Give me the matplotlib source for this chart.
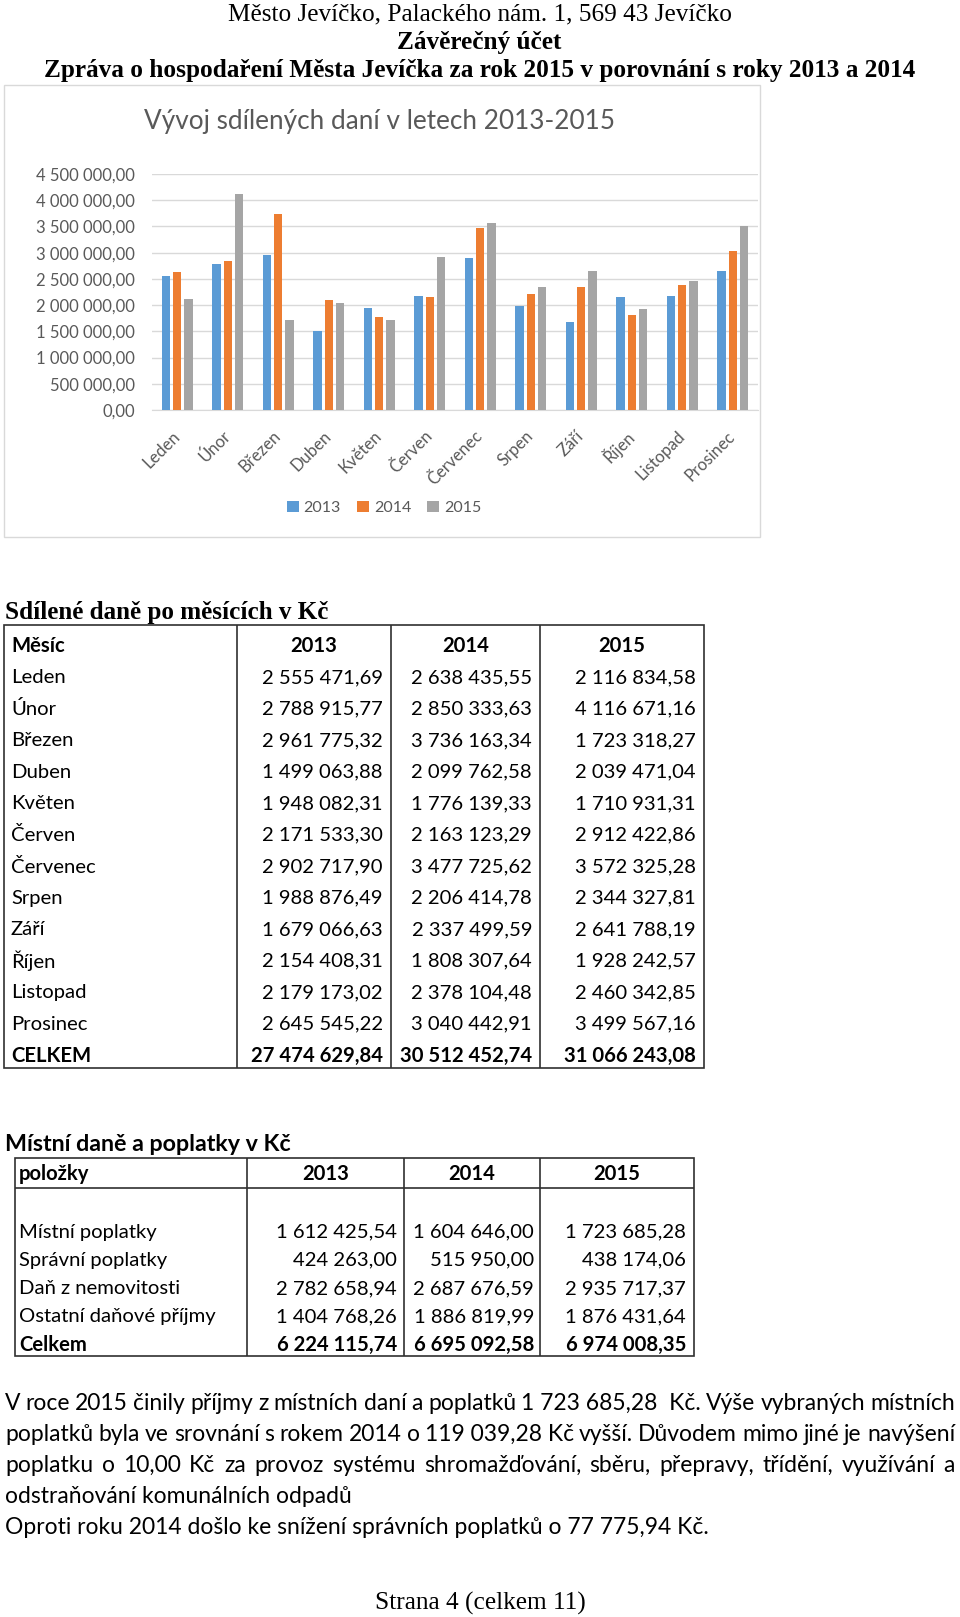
import matplotlib
matplotlib.use('Agg')
import matplotlib.pyplot as plt
import numpy as np
from matplotlib.ticker import FuncFormatter, MultipleLocator
from matplotlib.patches import Rectangle

plt.rcParams['font.family'] = ['Lato', 'DejaVu Sans']
SERIF = ['Liberation Serif', 'DejaVu Serif']

# --- data -------------------------------------------------------------
months = ['Leden', 'Únor', 'Březen', 'Duben', 'Květen', 'Červen',
          'Červenec', 'Srpen', 'Září', 'Říjen', 'Listopad', 'Prosinec']
years = ['2013', '2014', '2015']
tax_2013 = [2555471.69, 2788915.77, 2961775.32, 1499063.88, 1948082.31, 2171533.30,
            2902717.90, 1988876.49, 1679066.63, 2154408.31, 2179173.02, 2645545.22]
tax_2014 = [2638435.55, 2850333.63, 3736163.34, 2099762.58, 1776139.33, 2163123.29,
            3477725.62, 2206414.78, 2337499.59, 1808307.64, 2378104.48, 3040442.91]
tax_2015 = [2116834.58, 4116671.16, 1723318.27, 2039471.04, 1710931.31, 2912422.86,
            3572325.28, 2344327.81, 2641788.19, 1928242.57, 2460342.85, 3499567.16]

fee_items = ['Místní poplatky', 'Správní poplatky', 'Daň z nemovitosti', 'Ostatní daňové příjmy']
fees_2013 = [1612425.54, 424263.00, 2782658.94, 1404768.26]
fees_2014 = [1604646.00, 515950.00, 2687676.59, 1886819.99]
fees_2015 = [1723685.28, 438174.06, 2935717.37, 1876431.64]

header_lines = ['Město Jevíčko, Palackého nám. 1, 569 43 Jevíčko',
                'Závěrečný účet',
                'Zpráva o hospodaření Města Jevíčka za rok 2015 v porovnání s roky 2013 a 2014']
chart_title = 'Vývoj sdílených daní v letech 2013-2015'
paragraph = ['V roce 2015 činily příjmy z místních daní a poplatků 1\u00a0723\u00a0685,28\u00a0\u00a0Kč. Výše vybraných místních',
             'poplatků byla ve srovnání s rokem 2014 o 119\u00a0039,28\u00a0Kč vyšší. Důvodem mimo jiné je navýšení',
             'poplatku o 10,00 Kč za provoz systému shromažďování, sběru, přepravy, třídění, využívání a',
             'odstraňování komunálních odpadů',
             'Oproti roku 2014 došlo ke snížení správních poplatků o 77 775,94 Kč.']
footer = 'Strana 4 (celkem 11)'

colors = ['#5B9BD5', '#ED7D31', '#A5A5A5']
grey = '#595959'
line_c = '#303030'


def czk(v):
    return f'{v:,.2f}'.replace(',', ' ').replace('.', ',')


fig = plt.figure(figsize=(9.6, 16.17), dpi=100)
renderer = fig.canvas.get_renderer()

# page axes in pixel units (y down)
page = fig.add_axes([0, 0, 1, 1])
page.set_xlim(0, 960)
page.set_ylim(1617, 0)
page.axis('off')


def width_of(s, size, **kw):
    t = page.text(0, 0, s, fontsize=size, **kw)
    w = t.get_window_extent(renderer).width
    t.remove()
    return w


def fit(s, width, **kw):
    return 20 * width / width_of(s, 20, **kw)


# --- header -----------------------------------------------------------
s1 = fit(header_lines[0], 503, family=SERIF)
s3 = fit(header_lines[2], 870, family=SERIF, weight='bold')
page.text(480, 14, header_lines[0], family=SERIF, fontsize=s1, ha='center', va='center')
page.text(479, 42, header_lines[1], family=SERIF, fontsize=s3, weight='bold', ha='center', va='center')
page.text(480, 71, header_lines[2], family=SERIF, fontsize=s3, weight='bold', ha='center', va='center')

# --- chart ------------------------------------------------------------
page.add_patch(Rectangle((4, 85), 756, 452, fill=False, edgecolor='#D9D9D9', lw=1))
page.text(144, 121, chart_title, fontsize=fit(chart_title, 470),
          color=grey, ha='left', va='center')

tick_size = fit('4 500 000,00', 99)
ax = fig.add_axes([152 / 960, 1 - 410 / 1617, 606 / 960, 236 / 1617])
x = np.arange(len(months))
for i, (vals, c) in enumerate(zip([tax_2013, tax_2014, tax_2015], colors)):
    ax.bar(x + (i - 1) * 0.219, vals, width=0.168, color=c, label=years[i], zorder=3)
ax.set_xlim(-0.5, len(months) - 0.5)
ax.set_ylim(0, 4500000)
ax.yaxis.set_major_locator(MultipleLocator(500000))
ax.yaxis.set_major_formatter(FuncFormatter(lambda v, p: czk(v)))
ax.grid(axis='y', color='#D9D9D9', lw=1, zorder=0)
for sp in ['top', 'right', 'left']:
    ax.spines[sp].set_visible(False)
ax.spines['bottom'].set_color('#D9D9D9')
ax.tick_params(axis='both', length=0, colors=grey, labelsize=tick_size)
ax.tick_params(axis='y', pad=12)
ax.tick_params(axis='x', pad=17)
ax.set_xticks(x)
ax.set_xticklabels(months, rotation=45, ha='right', va='center', rotation_mode='anchor')
ax.legend(loc='center', bbox_to_anchor=(384 / 960, 1 - 508 / 1617), bbox_transform=fig.transFigure,
          ncol=3, frameon=False, handlelength=0.75, handleheight=0.75, handletextpad=0.3,
          columnspacing=1.0, labelcolor=grey, fontsize=fit('2013', 37))

# --- table 1: shared taxes by month ----------------------------------
tsize = fit('2 555 471,69', 121)
title1 = 'Sdílené daně po měsících v Kč'
page.text(5, 612, title1, family=SERIF, weight='bold',
          fontsize=fit(title1, 323, family=SERIF, weight='bold'), ha='left', va='center')

t1_top, t1_bot = 625, 1068
t1_cols = [4, 237, 391, 540, 704]
page.add_patch(Rectangle((t1_cols[0], t1_top), t1_cols[-1] - t1_cols[0], t1_bot - t1_top,
                         fill=False, edgecolor=line_c, lw=1.2))
page.vlines(t1_cols[1:-1], t1_top, t1_bot, color=line_c, lw=1.2)

row_h = 31.5
y0 = 646
val_right = [383, 532, 696]
page.text(11, y0, 'Měsíc', fontsize=tsize, weight='bold', ha='left', va='center')
for j, yr in enumerate(years):
    page.text((t1_cols[j + 1] + t1_cols[j + 2]) / 2, y0, yr, fontsize=tsize, weight='bold',
              ha='center', va='center')
series = [tax_2013, tax_2014, tax_2015]
for i, m in enumerate(months):
    yy = y0 + row_h * (i + 1)
    page.text(11, yy, m, fontsize=tsize, ha='left', va='center')
    for j in range(3):
        page.text(val_right[j], yy, czk(series[j][i]), fontsize=tsize, ha='right', va='center')
yy = y0 + row_h * 13
page.text(11, yy, 'CELKEM', fontsize=tsize, weight='bold', ha='left', va='center')
for j in range(3):
    page.text(val_right[j], yy, czk(round(sum(series[j]), 2)), fontsize=tsize, weight='bold',
              ha='right', va='center')

# --- table 2: local fees ---------------------------------------------
title2 = 'Místní daně a poplatky v Kč'
page.text(5, 1144, title2, weight='bold', fontsize=fit(title2, 287, weight='bold'),
          ha='left', va='center')
t2_top, t2_head, t2_bot = 1158, 1188, 1356
t2_cols = [15, 247, 404, 540, 694]
page.add_patch(Rectangle((t2_cols[0], t2_top), t2_cols[-1] - t2_cols[0], t2_bot - t2_top,
                         fill=False, edgecolor=line_c, lw=1.2))
page.vlines(t2_cols[1:-1], t2_top, t2_bot, color=line_c, lw=1.2)
page.hlines(t2_head, t2_cols[0], t2_cols[-1], color=line_c, lw=1.2)

page.text(19, 1174, 'položky', fontsize=tsize, weight='bold', ha='left', va='center')
for j, yr in enumerate(years):
    page.text((t2_cols[j + 1] + t2_cols[j + 2]) / 2, 1174, yr, fontsize=tsize, weight='bold',
              ha='center', va='center')
fees = [fees_2013, fees_2014, fees_2015]
fee_right = [397, 534, 686]
for i, it in enumerate(fee_items):
    yy = 1232 + 28.3 * i
    page.text(19, yy, it, fontsize=tsize, ha='left', va='center')
    for j in range(3):
        page.text(fee_right[j], yy, czk(fees[j][i]), fontsize=tsize, ha='right', va='center')
yy = 1232 + 28.3 * 4
page.text(19, yy, 'Celkem', fontsize=tsize, weight='bold', ha='left', va='center')
for j in range(3):
    page.text(fee_right[j], yy, czk(round(sum(fees[j]), 2)), fontsize=tsize, weight='bold',
              ha='right', va='center')

# --- paragraph (first three lines justified) --------------------------
psize = fit(paragraph[4], 703)
for k, line in enumerate(paragraph):
    yy = 1403 + 31 * k
    if k < 3:
        words = line.split(' ')
        ws = [width_of(w, psize) for w in words]
        gap = (955 - 5 - sum(ws)) / (len(words) - 1)
        xx = 5
        for w, wd in zip(words, ws):
            page.text(xx, yy, w, fontsize=psize, ha='left', va='center')
            xx += wd + gap
    else:
        page.text(5, yy, line, fontsize=psize, ha='left', va='center')

page.text(480, 1603, footer, family=SERIF, fontsize=fit(footer, 211, family=SERIF),
          ha='center', va='center')

fig.savefig('out.png', dpi=100)
